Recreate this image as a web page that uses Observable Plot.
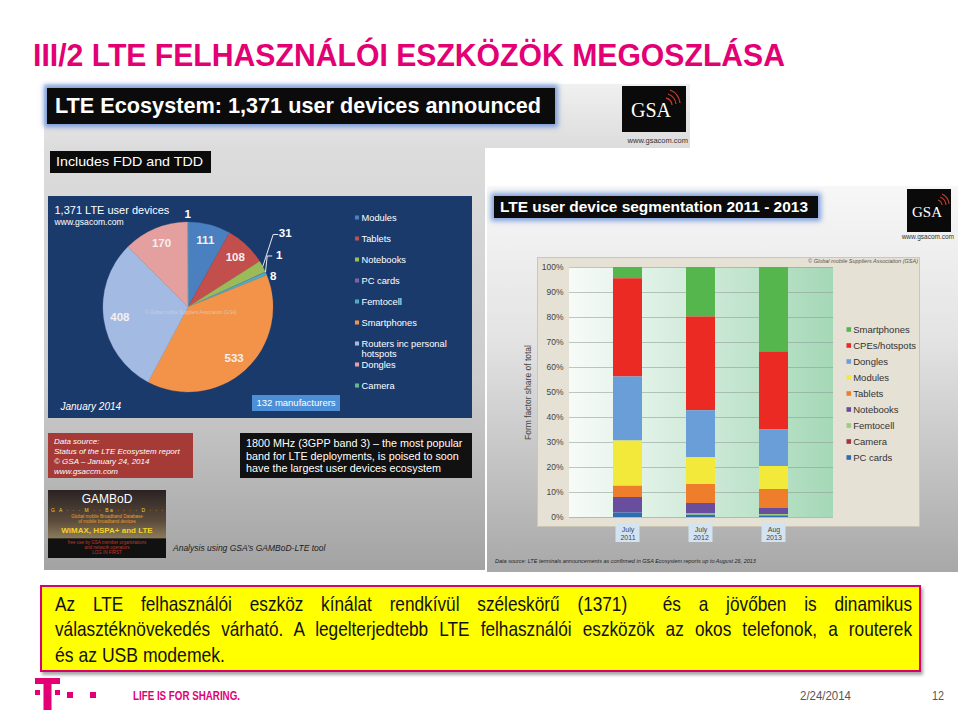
<!DOCTYPE html>
<html><head><meta charset="utf-8">
<script src="https://cdn.jsdelivr.net/npm/d3@7"></script>
<script src="https://cdn.jsdelivr.net/npm/@observablehq/plot@0.6"></script>
<style>
html,body{margin:0;padding:0;background:#fff;}
#slide{position:relative;width:960px;height:710px;overflow:hidden;font-family:"Liberation Sans",Arial,sans-serif;background:#fff;}
.a{position:absolute;}
.fit{white-space:nowrap;transform-origin:0 50%;display:inline-block;}
.ln{position:absolute;left:13px;white-space:pre;transform-origin:0 50%;}
</style></head>
<body><div id="slide">

<div class="a" style="left:33px;top:39px;font-size:32px;line-height:32px;font-weight:bold;color:#e20074;"><span class="fit" data-w="752">III/2 LTE FELHASZNÁLÓI ESZKÖZÖK MEGOSZLÁSA</span></div>

<!-- left picture -->
<div class="a" style="left:44px;top:84px;width:646px;height:64px;background:linear-gradient(180deg,#f0f0f0,#dcdcdc);"></div>
<div class="a" style="left:44px;top:148px;width:441px;height:422px;background:linear-gradient(180deg,#dcdcdc 0%,#cdcdcd 55%,#a3a3a3 100%);"></div>
<div class="a" style="left:47px;top:88px;width:508px;height:36px;background:#0b0b0b;box-shadow:0 0 5px 3px rgba(100,140,215,.85);"></div>
<div class="a" style="left:55px;top:94px;height:24px;line-height:24px;font-size:22px;font-weight:bold;color:#fff;"><span class="fit" data-w="486">LTE Ecosystem: 1,371 user devices announced</span></div>
<svg class="a" style="left:622px;top:86px" width="64" height="46"><rect width="64" height="46" fill="#0a0a0a"/>
<text x="29" y="31" text-anchor="middle" font-family="Liberation Serif,DejaVu Serif,serif" font-size="20" fill="#fff">GSA</text>
<path d="M44 12 a8 8 0 0 1 6 7 M46 8 a12 12 0 0 1 8 10 M48 4 a16 16 0 0 1 10 13" stroke="#c0392b" stroke-width="1.3" fill="none"/></svg>
<div class="a" style="left:600px;top:136px;width:88px;text-align:right;font-size:7.5px;color:#333;">www.gsacom.com</div>
<div class="a" style="left:50px;top:151px;width:161px;height:22px;background:#0b0b0b;"></div>
<div class="a" style="left:56px;top:153px;height:18px;line-height:18px;font-size:13px;color:#fff;"><span class="fit" data-w="147">Includes FDD and TDD</span></div>

<div class="a" id="pie" style="left:48px;top:196px;"></div>
<div class="a" style="left:252px;top:395px;width:88px;height:16px;line-height:16px;background:#4d8fd6;color:#fff;font-size:9.5px;text-align:center;">132 manufacturers</div>

<div class="a" style="left:48px;top:433px;width:145px;height:45px;background:#a53a36;color:#fff;font-style:italic;font-size:8px;line-height:10px;padding:4px 0 0 6px;box-sizing:border-box;">Data source:<br>Status of the LTE Ecosystem report<br>© GSA – January 24, 2014<br>www.gsaccm.com</div>
<div class="a" style="left:240px;top:433px;width:232px;height:45px;background:#111;color:#fff;font-size:10.8px;line-height:12.5px;padding:4px 0 0 6px;box-sizing:border-box;white-space:nowrap;">1800 MHz (3GPP band 3) – the most popular<br>band for LTE deployments, is poised to soon<br>have the largest user devices ecosystem</div>
<div class="a" style="left:48px;top:490px;width:118px;height:68px;background:linear-gradient(180deg,#2a2222 0%,#5a4a3a 45%,#8a7a5a 70%,#111 72%,#111 100%);overflow:hidden;">
 <div style="position:absolute;left:0;top:2px;width:118px;text-align:center;color:#fff;font-size:12px;">GAMBoD</div>
 <div style="position:absolute;left:3px;top:17px;width:112px;color:#f2d22a;font-size:5px;letter-spacing:1.5px;white-space:nowrap;">G A · · · M · · Ba · · · · D · · ·</div>
 <div style="position:absolute;left:2px;top:24px;width:114px;text-align:center;color:#e8a030;font-size:4.5px;line-height:5px;">Global mobile Broadband Database<br>of mobile broadband devices</div>
 <div style="position:absolute;left:0;top:36px;width:118px;text-align:center;color:#f2d22a;font-size:8px;font-weight:bold;">WiMAX, HSPA+ and LTE</div>
 <div style="position:absolute;left:0;top:50px;width:118px;text-align:center;color:#c0392b;font-size:4.5px;line-height:5px;">free use by GSA member organizations<br>and network operators<br>LOG IN FIRST</div>
</div>
<div class="a" style="left:173px;top:543px;font-size:8.5px;font-style:italic;color:#222;">Analysis using GSA’s GAMBoD-LTE tool</div>

<!-- right picture -->
<div class="a" style="left:487px;top:186px;width:471px;height:386px;background:linear-gradient(180deg,#f7f7f7 0%,#e3e3e3 40%,#a8a8a8 100%);"></div>
<div class="a" style="left:494px;top:196px;width:324px;height:22px;background:#0b0b0b;box-shadow:0 0 5px 3px rgba(100,140,215,.8);"></div>
<div class="a" style="left:500px;top:198px;height:18px;line-height:18px;font-size:15px;font-weight:bold;color:#fff;"><span class="fit" data-w="308">LTE user device segmentation 2011 - 2013</span></div>
<svg class="a" style="left:907px;top:189px" width="44" height="43"><rect width="44" height="43" fill="#0a0a0a"/>
<text x="20" y="28" text-anchor="middle" font-family="Liberation Serif,DejaVu Serif,serif" font-size="15" fill="#fff">GSA</text>
<path d="M31 11 a6 6 0 0 1 4 5 M33 8 a9 9 0 0 1 6 8 M35 5 a12 12 0 0 1 7 10" stroke="#c0392b" stroke-width="1.1" fill="none"/></svg>
<div class="a" style="left:880px;top:233px;width:74px;text-align:right;font-size:6.5px;color:#333;">www.gsacom.com</div>
<div class="a" style="left:537px;top:257px;width:383px;height:270px;background:#e5e1d5;border:1px solid #cbc6b6;box-sizing:border-box;"></div>
<div class="a" style="left:700px;top:258px;width:218px;text-align:right;font-size:5.5px;font-style:italic;color:#555;">© Global mobile Suppliers Association (GSA)</div>
<div class="a" id="bars" style="left:500px;top:250px;"></div>
<div class="a" id="barLegend" style="left:842px;top:318px;"></div>
<div class="a" style="left:495px;top:558px;font-size:5.5px;font-style:italic;color:#222;white-space:nowrap;">Data source: LTE terminals announcements as confirmed in GSA Ecosystem reports up to August 26, 2013</div>

<!-- yellow note -->
<div class="a" style="left:40px;top:585px;width:881px;height:87px;background:#ffff00;border:2px solid #d8006f;box-sizing:border-box;box-shadow:2px 3px 3px rgba(0,0,0,.35);font-size:21px;line-height:24px;color:#111;">
 <div class="ln" data-w="857" data-j="1" style="top:4.5px;">Az LTE felhasználói eszköz kínálat rendkívül széleskörű (1371)  és a jövőben is dinamikus</div>
 <div class="ln" data-w="857" data-j="1" style="top:30px;">választéknövekedés várható. A legelterjedtebb LTE felhasználói eszközök az okos telefonok, a routerek</div>
 <div class="ln" data-w="170" style="top:55.5px;">és az USB modemek.</div>
</div>

<!-- footer -->
<svg class="a" style="left:33px;top:676px" width="70" height="34">
<rect x="2" y="2" width="25" height="6" fill="#e20074"/><rect x="10.5" y="2" width="8" height="32" fill="#e20074"/>
<rect x="2" y="14" width="5" height="5" fill="#e20074"/><rect x="22" y="14" width="5" height="5" fill="#e20074"/>
<rect x="34" y="16" width="6" height="6" fill="#e20074"/><rect x="57" y="16" width="6" height="6" fill="#e20074"/></svg>
<div class="a" style="left:133px;top:689px;font-size:12px;line-height:14px;font-weight:bold;color:#e20074;"><span class="fit" data-w="107">LIFE IS FOR SHARING.</span></div>
<div class="a" style="left:800px;top:689px;font-size:12px;line-height:14px;color:#555;"><span class="fit" data-w="51">2/24/2014</span></div>
<div class="a" style="left:932px;top:689px;font-size:12px;line-height:14px;color:#555;"><span class="fit" data-w="12">12</span></div>
</div>

<script>
// ---- data: pie (January 2014) ----
const pieCategories = ["Modules","Tablets","Notebooks","PC cards","Femtocell","Smartphones","Routers inc personal hotspots","Dongles","Camera"];
const pieValues = [111,108,31,1,8,533,408,170,1];
const pieColors = ["#4a7fc0","#c24f4b","#9bbb59","#8064a2","#4bacc6","#f29349","#a3bbe2","#e4a09f","#5fb98a"];

// ---- data: stacked bars (share of total, %) ----
const barPeriods = ["July 2011","July 2012","Aug 2013"];
const barTypes = ["Smartphones","CPEs/hotspots","Dongles","Modules","Tablets","Notebooks","Femtocell","Camera","PC cards"];
const barColors = ["#55b64e","#ec2a24","#6a9ed8","#f2e93a","#ee7e2c","#6a4e9e","#9ccd7c","#a6343a","#2f6db3"];
const shareJuly2011 = [4.5,39.3,25.6,18.1,4.5,6.2,0,0,1.8];
const shareJuly2012 = [19.8,37.5,18.8,10.7,7.6,4.2,0.5,0,0.9];
const shareAug2013 = [33.8,31.1,14.7,9.2,7.6,2.4,0.6,0,0.6];
const yTickValues = [0,0.1,0.2,0.3,0.4,0.5,0.6,0.7,0.8,0.9,1];

// ---- pie ----
function pieMark(index, scales) {
  const cx = 140, cy = 111, r = 85;
  const data = pieCategories.map((c, i) => ({category: c, value: pieValues[i]}));
  const arcs = d3.pie().sort(null).value(d => d.value)(data);
  const arc = d3.arc().innerRadius(0).outerRadius(r);
  const mid = a => (a.startAngle + a.endAngle) / 2;
  const pt = (a, R) => [cx + R * Math.sin(mid(a)), cy - R * Math.cos(mid(a))];
  const g = d3.create("svg:g");
  g.append("g").attr("transform", `translate(${cx},${cy})`)
    .selectAll("path").data(arcs).join("path")
    .attr("d", arc).attr("fill", d => scales.color(d.data.category))
    .attr("stroke", d => scales.color(d.data.category)).attr("stroke-width", 0.3);
  g.append("text").attr("x", 143).attr("y", 117.5).attr("text-anchor", "middle")
    .attr("font-size", 4.6).attr("fill", "#d8d8d8").attr("fill-opacity", 0.75)
    .text("© Global mobile Suppliers Association (GSA)");
  const big = arcs.filter(a => a.data.value >= 50);
  g.selectAll("text.big").data(big).join("text")
    .attr("x", a => pt(a, 0.81 * r)[0]).attr("y", a => pt(a, 0.81 * r)[1])
    .attr("dy", "0.35em").attr("text-anchor", "middle").attr("fill", "#f6efef")
    .attr("font-weight", "bold").attr("font-size", 11.5).text(a => a.data.value);
  const last = arcs[arcs.length - 1];
  const lp = pt(last, 93);
  g.append("text").attr("x", lp[0]).attr("y", lp[1]).attr("dy", "0.35em").attr("text-anchor", "middle")
    .attr("fill", "#fff").attr("font-weight", "bold").attr("font-size", 11.5).text(last.data.value);
  const smalls = arcs.filter(a => a.data.value < 50 && mid(a) < Math.PI);
  const anchor = pt(smalls[1], 100);
  smalls.forEach((a, k) => {
    const lx = anchor[0] + (1 - k) * 6, ly = anchor[1] - 11 + (k - 1) * 21.5;
    g.append("text").attr("x", lx).attr("y", ly).attr("dy", "0.35em").attr("text-anchor", "middle")
      .attr("fill", "#fff").attr("font-weight", "bold").attr("font-size", 11.5).text(a.data.value);
    if (k < 2) {
      const e = pt(a, r);
      g.append("polyline").attr("points", `${e[0]},${e[1]} ${lx - 12},${ly + 1} ${lx - 7},${ly + 1}`)
        .attr("fill", "none").attr("stroke", "#fff").attr("stroke-width", 0.9);
    }
  });
  return g.node();
}

const piePlot = Plot.plot({
  width: 424, height: 222, margin: 0,
  style: {background: "#1b3a6c", fontFamily: "Liberation Sans, Arial, sans-serif", overflow: "visible"},
  y: {type: "point", domain: pieCategories, range: [20.7, 190], padding: 0, axis: null},
  color: {domain: pieCategories, range: pieColors},
  marks: [
    pieMark,
    Plot.dot(pieCategories, {y: d => d, fill: d => d, symbol: "square", r: 2.3, frameAnchor: "left", dx: 308.5}),
    Plot.text(pieCategories, {y: d => d, text: d => d === "Routers inc personal hotspots" ? "Routers inc personal\nhotspots" : d,
      frameAnchor: "left", dx: 313, textAnchor: "start", lineAnchor: "top", dy: -3.6, fill: "#fff", fontSize: 9.3, lineHeight: 1.1}),
    Plot.text(["1,371 LTE user devices"], {frameAnchor: "top-left", dx: 6, dy: 10, textAnchor: "start", fill: "#fff", fontSize: 11}),
    Plot.text(["www.gsacom.com"], {frameAnchor: "top-left", dx: 6, dy: 22.5, textAnchor: "start", fill: "#fff", fontSize: 8.6}),
    Plot.text(["January 2014"], {frameAnchor: "top-left", dx: 12, dy: 206.5, textAnchor: "start", fill: "#fff", fontSize: 10, fontStyle: "italic"})
  ]
});
document.getElementById("pie").appendChild(piePlot);

// ---- stacked bars ----
const shares = [shareJuly2011, shareJuly2012, shareAug2013];
const barData = barPeriods.flatMap((p, i) => barTypes.map((t, j) => ({period: p, type: t, share: shares[i][j] / 100})));
const stackOrder = barTypes.slice().reverse();

function plotBackground(index, scales, values, dim) {
  const {width, height, marginLeft, marginRight, marginTop, marginBottom} = dim;
  const g = d3.create("svg:g");
  const grad = g.append("defs").append("linearGradient").attr("id", "plotBg")
    .attr("x1", 0).attr("x2", 1).attr("y1", 0).attr("y2", 0);
  grad.append("stop").attr("offset", "0%").attr("stop-color", "#f7fbf8");
  grad.append("stop").attr("offset", "45%").attr("stop-color", "#d3ecdc");
  grad.append("stop").attr("offset", "100%").attr("stop-color", "#a4d8b6");
  g.append("rect").attr("x", marginLeft).attr("y", marginTop)
    .attr("width", width - marginLeft - marginRight).attr("height", height - marginTop - marginBottom)
    .attr("fill", "url(#plotBg)");
  return g.node();
}
function xLabelBoxes(index, scales, values, dim) {
  const x = scales.x;
  const bw = typeof x.bandwidth === "function" ? x.bandwidth() : x.bandwidth;
  const y0 = dim.height - dim.marginBottom;
  const g = d3.create("svg:g");
  g.selectAll("rect").data(barPeriods).join("rect")
    .attr("x", d => x(d) + bw / 2 - 12).attr("y", y0 + 6).attr("width", 24).attr("height", 19)
    .attr("fill", "#d4e3f2");
  return g.node();
}

const barPlot = Plot.plot({
  width: 440, height: 300,
  marginLeft: 69, marginRight: 107, marginTop: 17, marginBottom: 33,
  style: {background: "transparent", fontFamily: "Liberation Sans, Arial, sans-serif", fontSize: "8.5px", color: "#444", overflow: "visible"},
  x: {domain: barPeriods, padding: 0.6},
  y: {domain: [0, 1]},
  color: {domain: barTypes, range: barColors},
  marks: [
    plotBackground,
    Plot.gridY(yTickValues, {stroke: "#8e9a93", strokeOpacity: 0.55}),
    Plot.barY(barData, {x: "period", y: "share", fill: "type", order: stackOrder}),
    Plot.axisY(yTickValues, {tickSize: 0, tickPadding: 6, tickFormat: d => Math.round(d * 100) + "%",
      label: "Form factor share of total", labelAnchor: "center", labelArrow: "none", labelOffset: 45}),
    xLabelBoxes,
    Plot.axisX({tickSize: 0, tickPadding: 9, fontSize: 7, tickFormat: d => d.replace(" ", "\n"), lineHeight: 1.1, label: null})
  ]
});
document.getElementById("bars").appendChild(barPlot);

const legendPlot = Plot.plot({
  width: 80, height: 150, margin: 0,
  style: {background: "transparent", fontFamily: "Liberation Sans, Arial, sans-serif", overflow: "visible"},
  y: {type: "point", domain: barTypes, range: [7.7, 142.7], padding: 0, axis: null},
  color: {domain: barTypes, range: barColors},
  marks: [
    Plot.dot(barTypes, {y: d => d, fill: d => d, symbol: "square", r: 2.6, frameAnchor: "left", dx: 6.3}),
    Plot.text(barTypes, {y: d => d, frameAnchor: "left", dx: 10.7, textAnchor: "start", fill: "#333", fontSize: 9.5})
  ]
});
document.getElementById("barLegend").appendChild(legendPlot);

// ---- text fitting ----
document.querySelectorAll(".fit").forEach(el => {
  const w = +el.dataset.w, cur = el.getBoundingClientRect().width;
  el.style.transform = `scaleX(${w / cur})`;
});
// yellow note: narrow (condensed) rendering, first two lines justified
const NARROW = 0.82;
document.querySelectorAll(".ln").forEach(el => {
  const w = +el.dataset.w, cur = el.getBoundingClientRect().width;
  if (!el.dataset.j) { el.style.transform = `scaleX(${w / cur})`; return; }
  if (cur * NARROW > w) { el.style.transform = `scaleX(${w / cur})`; return; }
  const spaces = (el.textContent.match(/ /g) || []).length;
  el.style.wordSpacing = ((w / NARROW - cur) / spaces) + "px";
  el.style.transform = `scaleX(${NARROW})`;
});
</script>
</body></html>
